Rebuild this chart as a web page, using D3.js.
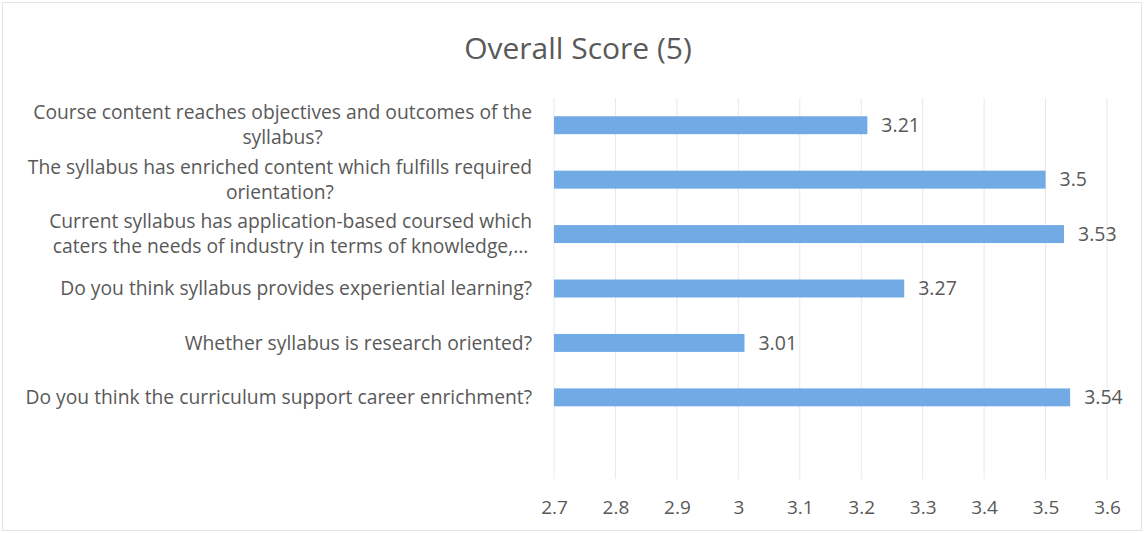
<!DOCTYPE html>
<html lang="en">
<head>
<meta charset="utf-8">
<script src="https://d3js.org/d3.v7.min.js"></script>
<style>
  body { margin: 0; background: #fff; }
  svg text { font-family: "Open Sans", Lato, sans-serif; fill: #595959; }
</style>
</head>
<body>
<script>
// Data
var questions = [
  ["Course content reaches objectives and outcomes of the", "syllabus?"],
  ["The syllabus has enriched content which fulfills required", "orientation?"],
  ["Current syllabus has application-based coursed which", "caters the needs of industry in terms of knowledge,..."],
  ["Do you think syllabus provides experiential learning?"],
  ["Whether syllabus is research oriented?"],
  ["Do you think the curriculum support career enrichment?"]
];
var scores = [3.21, 3.5, 3.53, 3.27, 3.01, 3.54];
var xTicks = [2.7, 2.8, 2.9, 3, 3.1, 3.2, 3.3, 3.4, 3.5, 3.6];
var title = "Overall Score (5)";

var w = 1144, h = 533;
var plotLeft = 554, plotRight = 1107, plotTop = 98, plotBottom = 479;

var svg = d3.select("body").append("svg")
  .attr("width", w)
  .attr("height", h);

// faint chart border
svg.append("rect")
  .attr("x", 2.5).attr("y", 2.5)
  .attr("width", w - 5).attr("height", h - 5)
  .attr("fill", "none")
  .attr("stroke", "#e4e4e4");

var xScale = d3.scaleLinear()
  .domain([2.7, 3.6])
  .range([plotLeft, plotRight]);

// 7 slots: the last one is empty in the original sheet
var slots = d3.range(7);
var yScale = d3.scaleBand()
  .domain(slots)
  .range([plotTop, plotBottom])
  .paddingInner(0.67)
  .paddingOuter(0.335);

// gridlines
svg.append("g")
  .selectAll("line")
  .data(xTicks)
  .enter()
  .append("line")
  .attr("x1", function(d) { return xScale(d); })
  .attr("x2", function(d) { return xScale(d); })
  .attr("y1", plotTop)
  .attr("y2", plotBottom)
  .attr("stroke", "#e8e8e8")
  .attr("stroke-width", 1);

// x axis labels
var xAxis = d3.axisBottom(xScale)
  .tickValues(xTicks)
  .tickSize(0)
  .tickPadding(0)
  .tickFormat(function(d) { return String(+d.toFixed(1)); });

var gx = svg.append("g")
  .attr("transform", "translate(0," + 500 + ")")
  .call(xAxis);
gx.select(".domain").remove();
gx.selectAll("text").attr("font-size", "19px").attr("font-family", null);

// bars
svg.append("g")
  .selectAll("rect")
  .data(scores)
  .enter()
  .append("rect")
  .attr("x", xScale(2.7))
  .attr("y", function(d, i) { return yScale(i); })
  .attr("width", function(d) { return xScale(d) - xScale(2.7); })
  .attr("height", yScale.bandwidth())
  .attr("fill", "#72aae6");

// value labels
svg.append("g")
  .selectAll("text")
  .data(scores)
  .enter()
  .append("text")
  .attr("x", function(d) { return xScale(d) + 14; })
  .attr("y", function(d, i) { return yScale(i) + yScale.bandwidth() / 2; })
  .attr("dy", "0.35em")
  .attr("font-size", "19.5px")
  .text(function(d) { return d; });

// category labels, wrapped lines centred within a right-aligned block
var labelRight = 532;
var lineH = 25;
var lab = svg.append("g")
  .selectAll("g")
  .data(questions)
  .enter()
  .append("g")
  .attr("transform", function(d, i) {
    return "translate(0," + (yScale(i) + yScale.bandwidth() / 2) + ")";
  });

lab.each(function(lines) {
  var g = d3.select(this);
  var texts = g.selectAll("text")
    .data(lines)
    .enter()
    .append("text")
    .attr("font-size", "19.3px")
    .attr("dy", "0.35em")
    .attr("y", function(d, j) { return (j - (lines.length - 1) / 2) * lineH; })
    .text(function(d) { return d; });
  var maxW = 0;
  texts.each(function() { maxW = Math.max(maxW, this.getComputedTextLength()); });
  var cx = labelRight - maxW / 2;
  texts.attr("x", cx).attr("text-anchor", "middle");
});

// title
svg.append("text")
  .attr("x", 578)
  .attr("y", 48)
  .attr("dy", "0.35em")
  .attr("text-anchor", "middle")
  .attr("font-size", "30px")
  .text(title);
</script>
</body>
</html>
